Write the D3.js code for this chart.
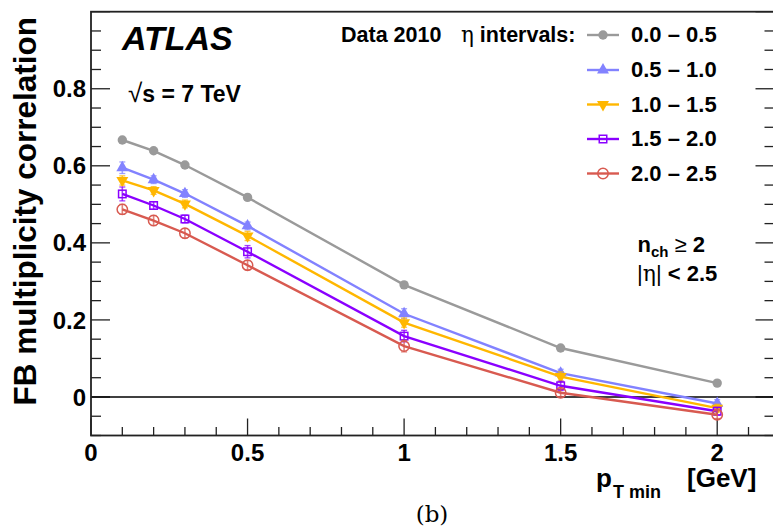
<!DOCTYPE html>
<html>
<head>
<meta charset="utf-8">
<script src="https://cdn.jsdelivr.net/npm/d3@7"></script>
<style>
  html, body { margin: 0; padding: 0; background: #fff; }
  svg { display: block; }
</style>
</head>
<body>
<div id="chart"></div>
<script>
// ---------------- data ----------------
const ptMin = [0.1, 0.2, 0.3, 0.5, 1.0, 1.5, 2.0];
const seriesNames = ["0.0 \u2013 0.5", "0.5 \u2013 1.0", "1.0 \u2013 1.5", "1.5 \u2013 2.0", "2.0 \u2013 2.5"];
const eta00_05 = [0.667, 0.639, 0.602, 0.518, 0.291, 0.127, 0.036];
const eta05_10 = [0.595, 0.564, 0.528, 0.444, 0.216, 0.062, -0.017];
const eta10_15 = [0.562, 0.536, 0.501, 0.418, 0.193, 0.053, -0.029];
const eta15_20 = [0.527, 0.497, 0.462, 0.377, 0.158, 0.029, -0.037];
const eta20_25 = [0.487, 0.458, 0.425, 0.342, 0.132, 0.011, -0.046];
const err00_05 = [0.005, 0.005, 0.005, 0.005, 0.005, 0.005, 0.005];
const err05_10 = [0.015, 0.010, 0.010, 0.010, 0.013, 0.010, 0.010];
const err10_15 = [0.012, 0.010, 0.010, 0.012, 0.012, 0.012, 0.010];
const err15_20 = [0.018, 0.010, 0.010, 0.016, 0.015, 0.012, 0.010];
const err20_25 = [0.013, 0.013, 0.012, 0.012, 0.015, 0.010, 0.010];
const xTickLabels = ["0", "0.5", "1", "1.5", "2"];
const yTickLabels = ["0", "0.2", "0.4", "0.6", "0.8"];

const seriesValues = [eta00_05, eta05_10, eta10_15, eta15_20, eta20_25];
const seriesErrors = [err00_05, err05_10, err10_15, err15_20, err20_25];
const colors = ["#9a9a9a", "#8282ff", "#ffb700", "#8a00ff", "#d85a50"];
const markerTypes = ["circleFilled", "triUp", "triDown", "squareOpen", "circleOpen"];

const SANS = "'Liberation Sans', Arial, Helvetica, sans-serif";
const SERIF = "'DejaVu Serif', 'Liberation Serif', serif";

// ---------------- layout ----------------
const W = 773, H = 530;
const frame = { left: 91, right: 774.5, top: 11.7, bottom: 435.5 };

const svg = d3.select("#chart").append("svg").attr("width", W).attr("height", H)
  .attr("font-family", SANS);

const x = d3.scaleLinear().domain([0, 2.183]).range([frame.left, frame.right]);
const y = d3.scaleLinear().domain([-0.1, 1.0]).range([frame.bottom, frame.top]);

// ---------------- ticks ----------------
const g = svg.append("g");
const yMinor = d3.range(-0.1, 1.0001, 0.05).map(v => +v.toFixed(2));
yMinor.forEach(v => {
  const major = Math.abs(Math.round(v * 10) % 2) === 0 && Math.abs(v*10 - Math.round(v*10)) < 1e-6;
  const len = major ? 19 : 10;
  g.append("line").attr("x1", frame.left).attr("x2", frame.left + len)
    .attr("y1", y(v)).attr("y2", y(v)).attr("stroke", "#222").attr("stroke-width", 1.3);
  g.append("line").attr("x1", frame.right).attr("x2", frame.right - len)
    .attr("y1", y(v)).attr("y2", y(v)).attr("stroke", "#222").attr("stroke-width", 1.3);
});
const xMinor = d3.range(0, 2.18, 0.1).map(v => +v.toFixed(2));
xMinor.forEach(v => {
  const major = Math.abs(v * 2 - Math.round(v * 2)) < 1e-6;
  const len = major ? 17 : 8.5;
  g.append("line").attr("x1", x(v)).attr("x2", x(v))
    .attr("y1", frame.bottom).attr("y2", frame.bottom - len).attr("stroke", "#222").attr("stroke-width", 1.3);
});

// zero line
g.append("line").attr("x1", frame.left).attr("x2", frame.right)
  .attr("y1", y(0)).attr("y2", y(0)).attr("stroke", "#000").attr("stroke-width", 1.6);

// frame
svg.append("rect").attr("x", frame.left).attr("y", frame.top)
  .attr("width", frame.right - frame.left).attr("height", frame.bottom - frame.top)
  .attr("fill", "none").attr("stroke", "#222").attr("stroke-width", 1.8);

// tick labels
const yTickVals = yTickLabels.map(Number);
svg.selectAll(".ylab").data(yTickVals).enter().append("text")
  .attr("x", 86).attr("y", d => y(d) + 8.6)
  .attr("text-anchor", "end").attr("font-size", 24).attr("font-weight", "bold")
  .text((d, i) => yTickLabels[i]);
const xTickVals = xTickLabels.map(Number);
svg.selectAll(".xlab").data(xTickVals).enter().append("text")
  .attr("x", d => x(d)).attr("y", 460.7)
  .attr("text-anchor", "middle").attr("font-size", 24).attr("font-weight", "bold")
  .text((d, i) => xTickLabels[i]);

// axis titles
svg.append("text").attr("transform", "translate(36,17) rotate(-90)")
  .attr("text-anchor", "end").attr("font-size", 31.5).attr("font-weight", "bold")
  .text("FB multiplicity correlation");

const xt = svg.append("text").attr("x", 596).attr("y", 487).attr("font-weight", "bold");
xt.append("tspan").attr("font-size", 26).text("p");
xt.append("tspan").attr("font-size", 18).attr("dy", 11).attr("dx", 1).text("T min");
svg.append("text").attr("x", 687).attr("y", 487).attr("font-size", 26).attr("font-weight", "bold").text("[GeV]");

svg.append("text").attr("x", 432).attr("y", 522).attr("text-anchor", "middle")
  .attr("font-family", SERIF).attr("font-size", 23).text("(b)");

// ---------------- markers ----------------
function drawMarker(sel, type, color, cx, cy, scale) {
  const s = scale || 1;
  if (type === "circleFilled") {
    sel.append("circle").attr("cx", cx).attr("cy", cy).attr("r", 4.7 * s).attr("fill", color);
  } else if (type === "circleOpen") {
    sel.append("circle").attr("cx", cx).attr("cy", cy).attr("r", 5.2 * s)
      .attr("fill", "none").attr("stroke", color).attr("stroke-width", 1.5);
  } else if (type === "squareOpen") {
    const a = 7.5 * s;
    sel.append("rect").attr("x", cx - a / 2).attr("y", cy - a / 2).attr("width", a).attr("height", a)
      .attr("fill", "none").attr("stroke", color).attr("stroke-width", 1.5);
  } else if (type === "triUp" || type === "triDown") {
    const path = d3.symbol().type(d3.symbolTriangle).size(62 * s * s)();
    sel.append("path").attr("d", path)
      .attr("transform", `translate(${cx},${cy})` + (type === "triDown" ? " rotate(180)" : ""))
      .attr("fill", color);
  }
}

// ---------------- series ----------------
const line = d3.line().x(d => x(d.x)).y(d => y(d.y));
seriesValues.forEach((vals, si) => {
  const pts = ptMin.map((px, i) => ({ x: px, y: vals[i], e: seriesErrors[si][i] }));
  const sg = svg.append("g");
  sg.append("path").datum(pts).attr("d", line).attr("fill", "none")
    .attr("stroke", colors[si]).attr("stroke-width", 2.4);
  pts.forEach(p => {
    const cx = x(p.x), y1 = y(p.y - p.e), y2 = y(p.y + p.e);
    sg.append("line").attr("x1", cx).attr("x2", cx).attr("y1", y1).attr("y2", y2)
      .attr("stroke", colors[si]).attr("stroke-width", 1.6).attr("opacity", 0.75);
    [y1, y2].forEach(yy => sg.append("line").attr("x1", cx - 3).attr("x2", cx + 3)
      .attr("y1", yy).attr("y2", yy).attr("stroke", colors[si]).attr("stroke-width", 1.3).attr("opacity", 0.75));
    drawMarker(sg, markerTypes[si], colors[si], cx, y(p.y));
  });
});

// ---------------- labels ----------------
svg.append("text").attr("x", 122).attr("y", 50).attr("font-size", 34)
  .attr("font-weight", "bold").attr("font-style", "italic").text("ATLAS");
const rs = svg.append("text").attr("x", 128).attr("y", 101.5).attr("font-size", 23).attr("font-weight", "bold");
rs.append("tspan").attr("font-weight", "normal").attr("font-size", 26).text("\u221A");
rs.append("tspan").text("s = 7 TeV");

svg.append("text").attr("x", 341).attr("y", 41.5).attr("font-size", 21.5)
  .attr("font-weight", "bold").text("Data 2010");
const hd = svg.append("text").attr("x", 461).attr("y", 41.5).attr("font-size", 21.5).attr("font-weight", "bold");
hd.append("tspan").attr("font-weight", "normal").attr("font-family", SERIF).text("\u03b7");
hd.append("tspan").text(" intervals:");

const rowY = [35, 70, 104.5, 139, 173.5];
seriesNames.forEach((name, i) => {
  const lg = svg.append("g");
  lg.append("line").attr("x1", 587).attr("x2", 619).attr("y1", rowY[i]).attr("y2", rowY[i])
    .attr("stroke", colors[i]).attr("stroke-width", 2.4);
  drawMarker(lg, markerTypes[i], colors[i], 603, rowY[i], 1);
  lg.append("text").attr("x", 631).attr("y", rowY[i] + 7.3).attr("font-size", 22)
    .attr("font-weight", "bold").text(name);
});

const nt = svg.append("text").attr("x", 637.5).attr("y", 251.5).attr("font-size", 22).attr("font-weight", "bold");
nt.append("tspan").text("n");
nt.append("tspan").attr("font-size", 15).attr("dy", 5).text("ch");
nt.append("tspan").attr("dy", -5).attr("font-weight", "normal").text(" \u2265 ");
nt.append("tspan").text("2");
const et = svg.append("text").attr("x", 637).attr("y", 281).attr("font-size", 22).attr("font-weight", "bold");
et.append("tspan").attr("font-weight", "normal").text("|");
et.append("tspan").attr("font-weight", "normal").attr("font-family", SERIF).text("\u03b7");
et.append("tspan").attr("font-weight", "normal").text("|");
et.append("tspan").text(" < 2.5");
</script>
</body>
</html>
